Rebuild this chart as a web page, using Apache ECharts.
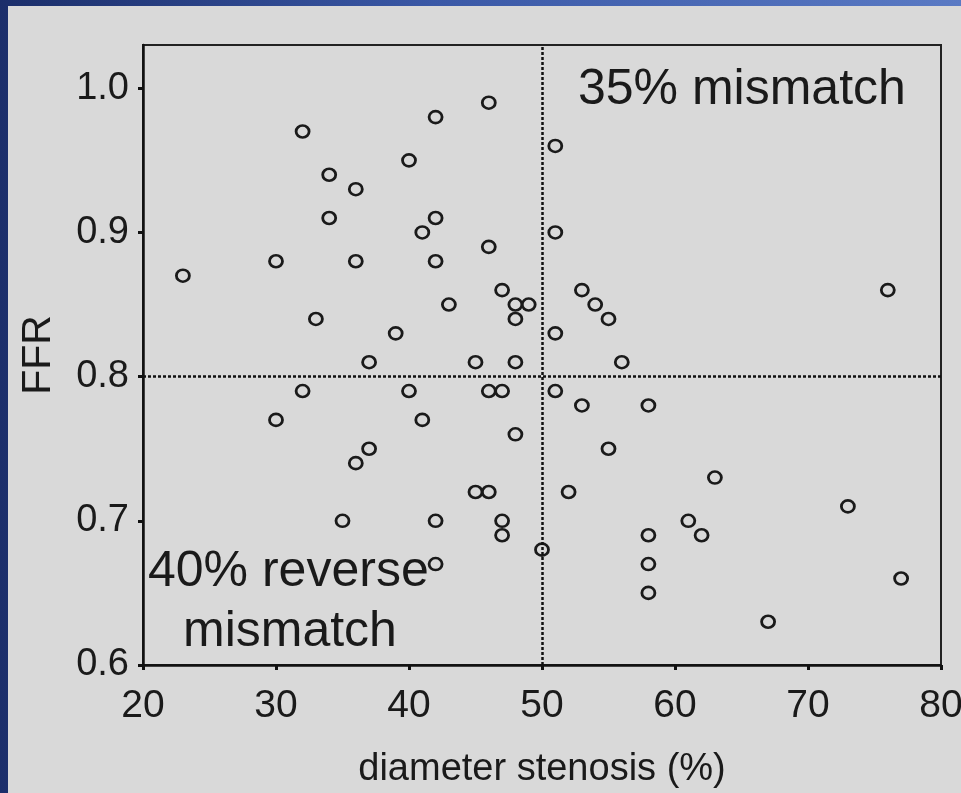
<!DOCTYPE html>
<html lang="en">
<head>
	<meta charset="UTF-8">
	<title>FFR vs diameter stenosis</title>
	<script src="https://cdn.jsdelivr.net/npm/echarts@6/dist/echarts.min.js"></script>
	<style>
		html, body {
			margin: 0;
			padding: 0;
			width: 961px;
			height: 793px;
			overflow: hidden;
			background: linear-gradient(to right, #1b2e6a 0%, #3a58a6 45%, #5a7ac4 100%);
		}
		#chart {
			position: absolute;
			left: 8px;
			top: 6px;
			width: 953px;
			height: 787px;
			background-color: #d9d9d9;
		}
	</style>
</head>
<body>
	<div id="chart"></div>
	<script>
		// diameter stenosis (%) of each lesion
		var stenosis = [
			46, 42, 32, 40, 51, 34, 36, 34, 42, 41, 46, 51, 23, 30, 36, 42,
			47, 43, 48, 49, 48, 33, 39, 51, 37, 45, 48, 32, 40, 46, 47, 51,
			53, 54, 55, 56, 76, 30, 41, 48, 37, 36, 45, 46, 35, 42, 47, 47,
			50, 42, 53, 58, 55, 52, 63, 73, 61, 62, 58, 58, 58, 77, 67
		];
		// FFR of each lesion
		var ffr = [
			0.99, 0.98, 0.97, 0.95, 0.96, 0.94, 0.93, 0.91, 0.91, 0.90, 0.89, 0.90, 0.87, 0.88, 0.88, 0.88,
			0.86, 0.85, 0.85, 0.85, 0.84, 0.84, 0.83, 0.83, 0.81, 0.81, 0.81, 0.79, 0.79, 0.79, 0.79, 0.79,
			0.86, 0.85, 0.84, 0.81, 0.86, 0.77, 0.77, 0.76, 0.75, 0.74, 0.72, 0.72, 0.70, 0.70, 0.70, 0.69,
			0.68, 0.67, 0.78, 0.78, 0.75, 0.72, 0.73, 0.71, 0.70, 0.69, 0.69, 0.67, 0.65, 0.66, 0.63
		];
		var xTicks = [20, 30, 40, 50, 60, 70, 80];
		var yTicks = [0.6, 0.7, 0.8, 0.9, 1.0];
		var cutStenosis = 50;
		var cutFfr = 0.8;

		var points = stenosis.map(function(s, i) { return [s, ffr[i]]; });

		var txt = '#1a1a1a';
		var font = '"Liberation Sans", Arial, sans-serif';

		var chart = echarts.init(document.getElementById('chart'));
		chart.setOption({
			animation: false,
			grid: {
				left: 135, top: 39, right: 20, bottom: 128,
				outerBoundsMode: 'none',
				containLabel: false,
				show: true,
				borderColor: '#222',
				borderWidth: 2
			},
			xAxis: {
				type: 'value',
				min: xTicks[0],
				max: xTicks[xTicks.length - 1],
				interval: 10,
				name: 'diameter stenosis (%)',
				nameLocation: 'middle',
				nameGap: 86,
				nameTextStyle: { color: txt, fontSize: 38, fontFamily: font },
				axisLine: { show: true, lineStyle: { color: '#111', width: 2.5 } },
				axisTick: { show: true, length: 5, lineStyle: { color: '#111', width: 3 } },
				axisLabel: { color: txt, fontSize: 39, fontFamily: font, margin: 22 },
				splitLine: { show: false }
			},
			yAxis: {
				type: 'value',
				min: yTicks[0],
				max: 1.03,
				interval: 0.1,
				name: 'FFR',
				nameLocation: 'middle',
				nameGap: 84,
				nameTextStyle: { color: txt, fontSize: 41, fontFamily: font },
				axisLine: { show: true, lineStyle: { color: '#111', width: 2.5 } },
				axisTick: { show: true, length: 5, lineStyle: { color: '#111', width: 3 } },
				axisLabel: {
					color: txt, fontSize: 38, fontFamily: font, margin: 14,
					showMaxLabel: false,
					formatter: function(v) { return v.toFixed(1); }
				},
				splitLine: { show: false }
			},
			series: [{
				type: 'scatter',
				data: points,
				symbol: 'circle',
				symbolSize: [13, 12],
				itemStyle: {
					color: 'rgba(0,0,0,0)',
					borderColor: '#1a1a1a',
					borderWidth: 2.7,
					opacity: 1
				},
				markLine: {
					silent: true,
					symbol: 'none',
					label: { show: false },
					lineStyle: { color: '#111', type: [3, 2], width: 2.5 },
					data: [{ xAxis: cutStenosis }, { yAxis: cutFfr }]
				}
			}],
			graphic: [
				{
					type: 'text',
					left: 570, top: 59,
					style: { text: '35% mismatch', fill: txt, fontSize: 50, fontFamily: font }
				},
				{
					type: 'text',
					left: 140, top: 541,
					style: { text: '40% reverse', fill: txt, fontSize: 50, fontFamily: font }
				},
				{
					type: 'text',
					left: 175, top: 601,
					style: { text: 'mismatch', fill: txt, fontSize: 50, fontFamily: font }
				}
			]
		});
	</script>
</body>
</html>
